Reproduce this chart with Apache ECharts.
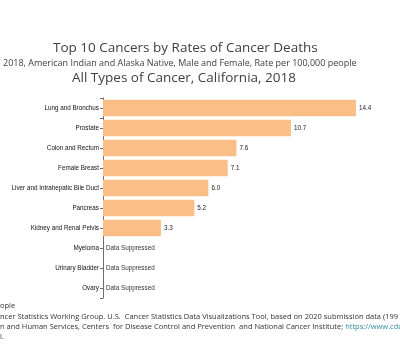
<!DOCTYPE html>
<html>
<head>
<meta charset="utf-8">
<style>
  html, body { margin: 0; padding: 0; background: #fff; }
  #chart { width: 400px; height: 351px; }
</style>
<script src="https://cdn.jsdelivr.net/npm/echarts@6/dist/echarts.min.js"></script>
</head>
<body>
<div id="chart"></div>
<script>
// top to bottom, as shown on the chart
const cancerSites = [
  "Lung and Bronchus",
  "Prostate",
  "Colon and Rectum",
  "Female Breast",
  "Liver and Intrahepatic Bile Duct",
  "Pancreas",
  "Kidney and Renal Pelvis",
  "Myeloma",
  "Urinary Bladder",
  "Ovary"
];
// rate per 100,000 people, null = data suppressed
const deathRates = [14.4, 10.7, 7.6, 7.1, 6.0, 5.2, 3.3, null, null, null];

const titleLines = [
  "Top 10 Cancers by Rates of Cancer Deaths",
  "2018, American Indian and Alaska Native, Male and Female, Rate per 100,000 people",
  "All Types of Cancer, California, 2018"
];
const footerLines = [
  "ople",
  "ncer Statistics Working Group. U.S.  Cancer Statistics Data Visualizations Tool, based on 2020 submission data (199",
  "n and Human Services, Centers  for Disease Control and Prevention  and National Cancer Institute; ",
  "l."
];
const footerLink = "https://www.cdc";

let chart = echarts.init(document.getElementById("chart"));

// category axis runs bottom-up in echarts, so reverse for display
const cats = cancerSites.slice().reverse();
const vals = deathRates.slice().reverse().map(v =>
  v == null ? { value: 0, label: { formatter: "Data Suppressed", color: "#333" } } : v
);

const textColor = "#404040";
const axisColor = "#6e6e6e";

chart.setOption({
  animation: false,
  title: [
    {
      text: titleLines[0], left: 53, top: 41, padding: 0,
      textStyle: { fontFamily: "Open Sans", fontWeight: "normal", fontSize: 13.5, color: textColor }
    },
    {
      text: titleLines[1], left: 3, top: 59, padding: 0,
      textStyle: { fontFamily: "Open Sans", fontWeight: "normal", fontSize: 9, color: textColor }
    },
    {
      text: titleLines[2], left: 72, top: 71, padding: 0,
      textStyle: { fontFamily: "Open Sans", fontWeight: "normal", fontSize: 13.5, color: textColor }
    }
  ],
  grid: { left: 103, right: 16, top: 98, bottom: 53, containLabel: false },
  xAxis: {
    type: "value", min: 0, max: 16, show: false
  },
  yAxis: [
    {
      type: "category",
      data: cats,
      axisLine: { lineStyle: { color: axisColor, width: 1 } },
      axisTick: { show: true, alignWithLabel: true, length: 3, lineStyle: { color: axisColor, width: 1 } },
      axisLabel: {
        fontFamily: "Liberation Sans", fontSize: 6.3, color: "#111", margin: 4
      }
    },
    {
      // only draws the end caps at top and bottom of the axis line
      type: "category",
      data: cats,
      position: "left",
      axisLine: { show: false },
      axisLabel: { show: false },
      axisTick: {
        show: true,
        length: 3,
        lineStyle: { color: axisColor, width: 1 },
        interval: (i) => i === 0 || i === cats.length - 1
      }
    }
  ],
  series: [
    {
      type: "bar",
      data: vals,
      barCategoryGap: "18%",
      itemStyle: { color: "#fbbe86" },
      label: {
        show: true,
        position: "right",
        distance: 3,
        fontFamily: "Liberation Sans",
        fontSize: 6.3,
        color: "#222",
        formatter: (p) => p.value.toFixed(1)
      }
    }
  ],
  graphic: footerLines.map((t, i) => ({
    type: "text",
    left: 0,
    top: [302, 313, 323, 333][i],
    style: i === 2
      ? {
          text: "{a|" + t + "}{b|" + footerLink + "}",
          rich: {
            a: { font: "7.5px 'Open Sans'", fill: "#333" },
            b: { font: "7.5px 'Open Sans'", fill: "#2f8f9d", textDecoration: "underline" }
          }
        }
      : { text: t, font: "7.5px 'Open Sans'", fill: "#333" }
  }))
});
</script>
</body>
</html>
